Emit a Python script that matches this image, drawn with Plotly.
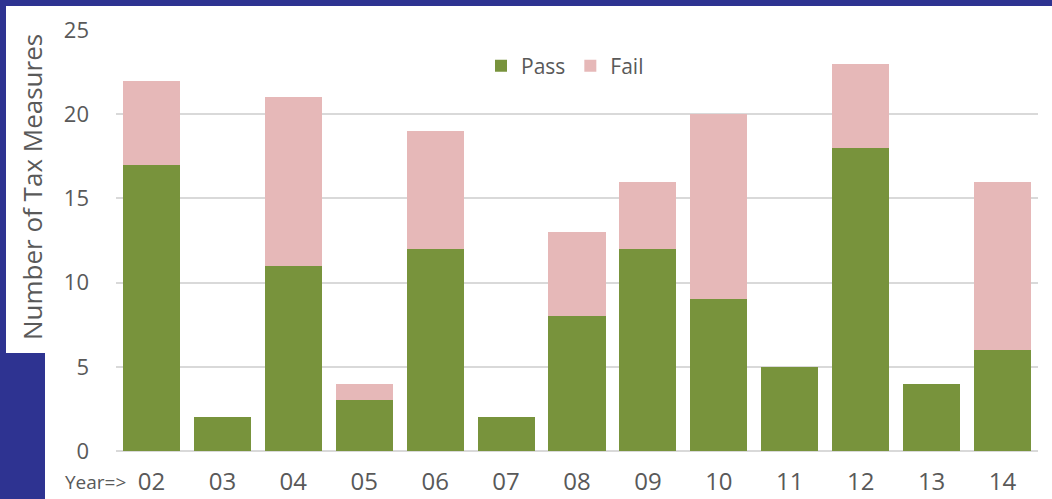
import plotly.graph_objects as go

years = ["02", "03", "04", "05", "06", "07", "08", "09", "10", "11", "12", "13", "14"]
passed = [17, 2, 11, 3, 12, 2, 8, 12, 9, 5, 18, 4, 6]
failed = [5, 0, 10, 1, 7, 0, 5, 4, 11, 0, 5, 0, 10]
y_ticks = [0, 5, 10, 15, 20, 25]

W, H = 1052, 499
L, R, T, B = 116, 14, 30, 48
pw, ph = W - L - R, H - T - B

def px(x):
    return (x - L) / pw

def py(y):
    return (H - B - y) / ph

fig = go.Figure()
fig.add_trace(go.Bar(name="Pass", x=years, y=passed, marker_color="#78933c", marker_line_width=0))
fig.add_trace(go.Bar(name="Fail", x=years, y=failed, marker_color="#e6b8b8", marker_line_width=0))

shapes = [
    dict(type="rect", xref="paper", yref="paper", x0=px(45), x1=px(W + 5), y0=py(H + 5), y1=py(6),
         fillcolor="white", line_width=0, layer="below"),
    dict(type="rect", xref="paper", yref="paper", x0=px(6), x1=px(46), y0=py(353), y1=py(6),
         fillcolor="white", line_width=0, layer="below"),
]

fig.update_layout(
    width=W, height=H,
    barmode="stack", bargap=0.196,
    margin=dict(l=L, r=R, t=T, b=B),
    paper_bgcolor="#2e3391", plot_bgcolor="white",
    font=dict(family="Open Sans, DejaVu Sans, sans-serif", color="#595959", size=20),
    shapes=shapes,
    showlegend=True,
    legend=dict(orientation="h", x=px(565), xanchor="center", y=py(66), yanchor="middle",
                bgcolor="rgba(0,0,0,0)", font=dict(size=21, color="#595959"),
                traceorder="normal", itemwidth=30),
    xaxis=dict(showgrid=False, showline=False, ticks="", tickfont=dict(size=24),
               ticklabelstandoff=14, automargin=False),
    yaxis=dict(range=[0, 25], tickvals=y_ticks, showgrid=True, gridcolor="#d9d9d9", gridwidth=1.5,
               zeroline=True, zerolinecolor="#d9d9d9", zerolinewidth=1.5, ticks="",
               tickfont=dict(size=22), ticklabelstandoff=26, automargin=False),
    annotations=[
        dict(text="Number of Tax Measures", xref="paper", yref="paper", x=px(32), y=py(187),
             textangle=-90, showarrow=False, font=dict(size=26, color="#595959"),
             xanchor="center", yanchor="middle"),
        dict(text="Year=>", xref="paper", yref="paper", x=px(128), y=py(482),
             showarrow=False, font=dict(size=19, color="#595959"), xanchor="right", yanchor="middle"),
    ],
)

fig.write_html(
    "out.html",
    config={"displayModeBar": False},
    post_script="document.body.style.margin='0';document.body.style.overflow='hidden';",
)
